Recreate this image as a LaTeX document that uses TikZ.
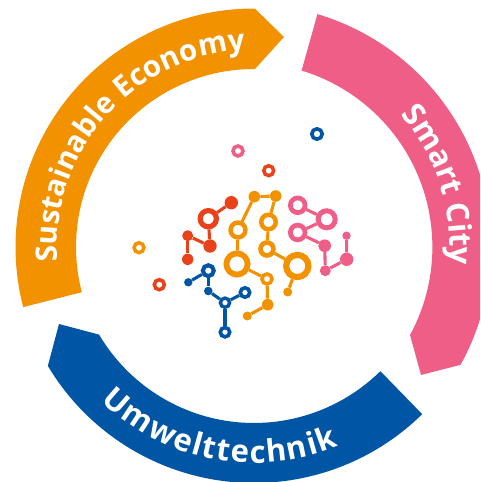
\documentclass[tikz,border=0pt]{standalone}
\usepackage{fontspec}
\usetikzlibrary{decorations.text}
\newfontfamily\bandfont{Open Sans}
\definecolor{cOrange}{HTML}{F39200}
\definecolor{cPink}{HTML}{EE5E86}
\definecolor{cBlue}{HTML}{0056A4}
\definecolor{cRed}{HTML}{E9421A}
\tikzset{
  ringr/.style 2 args={circle,draw,inner sep=0pt,minimum size={(#1+#2-0.3)*1pt},line width={(#1-#2+0.3)*1pt}},
  dotr/.style={circle,fill,inner sep=0pt,minimum size={2*#1*1pt}},
  link/.style={line width=3.1pt},
}
\begin{document}
\begin{tikzpicture}[x=1pt,y=1pt]
\useasboundingbox (0,0) rectangle (480,482);
\begin{scope}
\clip (0,0) rectangle (480,482);
% Orange band
\begin{scope}[shift={(254,235)}]
\fill[cOrange] (194.6:238.5) arc[start angle=194.6,end angle=89.8,radius=238.5] -- (30,210) -- (89.7:178) arc[start angle=89.7,end angle=194.7,radius=178] -- cycle;
\path[decorate,decoration={text along path,text align={fit to path},text={|\bandfont\bfseries\fontsize{29.5}{29.5}\selectfont\color{white}|Sustainable Economy}}] (184.3:197) arc[start angle=184.3,end angle=92.5,radius=197];
\end{scope}
% Pink band
\begin{scope}[shift={(248,235)}]
\fill[cPink] (73.4:243) arc[start angle=73.4,end angle=-29,radius=243] -- (173,-128) -- (-28.5:184.4) arc[start angle=-28.5,end angle=73.1,radius=184.4] -- cycle;
\path[decorate,decoration={text along path,text align={fit to path},text={|\bandfont\bfseries\fontsize{31}{31}\selectfont\color{white}|Smart City}}] (41:202) arc[start angle=41,end angle=-4,radius=202];
\end{scope}
% Blue band
\begin{scope}[shift={(254,239)}]
\fill[cBlue] (210.8:240) arc[start angle=210.8,end angle=314.5,radius=240] -- (314.6:180) arc[start angle=314.6,end angle=210.6,radius=180] -- (-195,-81) -- cycle;
\path[decorate,decoration={text along path,text align={fit to path},text={|\bandfont\bfseries\fontsize{31}{31}\selectfont\color{white}|Umwelttechnik}}] (226:220) arc[start angle=226,end angle=292.6,radius=220];
\end{scope}
\end{scope}
% Network
\begin{scope}[shift={(0,482)},y=-1pt]
% free rings
\node[ringr={6.8}{3.5},draw=cPink] (fp) at (238,151) {};
\node[ringr={6.7}{3.5},draw=cRed] (fr) at (268.7,170.7) {};
\node[ringr={7}{3.7},draw=cBlue] (fb) at (317,134) {};
\node[ringr={6.7}{3.5},draw=cOrange] (fo) at (139,247.7) {};
\node[ringr={6.8}{3.5},draw=cRed] (fr2) at (159.3,284.7) {};
% red
\begin{scope}[cRed]
\node[ringr={10.7}{5.8},draw=cRed] (r1) at (208.3,218.7) {};
\node[dotr=6.7] (r2) at (231.3,202.7) {};
\node[dotr=6.7] (r3) at (210,246) {};
\node[dotr=5.5] (r4) at (187.7,235.7) {};
\node[dotr=5.7] (r5) at (187.7,259.3) {};
\draw[link] (r1) -- (r2);
\draw[link] (r1) -- (r3);
\draw[link] (r3) -- (r4);
\draw[link] (r4) -- (r5);
\end{scope}
% blue
\begin{scope}[cBlue]
\node[ringr={7.5}{3.7},draw=cBlue] (b1) at (208.3,270.7) {};
\node[dotr=4.2] (b2) at (188.3,282.3) {};
\node[dotr=4.3] (b3) at (208.3,291) {};
\node[ringr={6.3}{3.2},draw=cBlue] (b4) at (225,302.7) {};
\node[ringr={6.5}{3.2},draw=cBlue] (b5) at (225,332.2) {};
\node[ringr={6.5}{3.2},draw=cBlue] (b6) at (245,292.5) {};
\draw[link] (b1) -- (b2);
\draw[link] (b1) -- (b3);
\draw[link] (b3) -- (b4);
\draw[link] (b4) -- (b5);
\draw[link] (b4) -- (b6);
\end{scope}
% orange
\begin{scope}[cOrange]
\node[dotr=5.8] (o1) at (254.3,196.7) {};
\node[dotr=5.8] (o2) at (275.7,196) {};
\node[ringr={9.5}{5.3},draw=cOrange] (o3) at (268.5,222) {};
\node[ringr={9.7}{5.5},draw=cOrange] (o4) at (238,230) {};
\node[ringr={8.8}{4.5},draw=cOrange] (o5) at (267,249) {};
\node[ringr={13.5}{8},draw=cOrange] (o6) at (237,264) {};
\node[ringr={14.2}{8.3},draw=cOrange] (o7) at (297.3,266) {};
\node[ringr={6.8}{3.5},draw=cOrange] (o8) at (267,279) {};
\node[dotr=5.8] (o9) at (267.7,304.7) {};
\node[dotr=4.5] (o10) at (247.3,316) {};
\node[dotr=4.5] (o11) at (287.7,292) {};
\draw[link] (o1) -- (o2);
\draw[link] (o1) -- (o4);
\draw[link] (o2) -- (o3);
\draw[link] (o3) -- (o5);
\draw[link] (o4) -- (o6);
\draw[link] (o5) -- (o7);
\draw[link] (o6) -- (o8);
\draw[link] (o8) -- (o9);
\draw[link] (o9) -- (o10);
\draw[link] (o7) -- (o11);
\end{scope}
% pink
\begin{scope}[cPink]
\node[ringr={9.7}{5.3},draw=cPink] (p1) at (297.7,205.3) {};
\node[ringr={11}{6.3},draw=cPink] (p2) at (326.7,219.3) {};
\node[ringr={9.7}{5.3},draw=cPink] (p3) at (297.7,232.5) {};
\node[dotr=6.3] (p4) at (324.7,245.7) {};
\node[dotr=5.5] (p5) at (325.3,270.7) {};
\node[dotr=6.7] (p6) at (346.7,259.3) {};
\node[dotr=4.2] (p7) at (346.5,235.7) {};
\draw[link] (p1) -- (p2);
\draw[link] (p3) -- (p2);
\draw[link] (p3) -- (p4);
\draw[link] (p4) -- (p5);
\draw[link] (p5) -- (p6);
\draw[link] (p6) -- (p7);
\end{scope}
\end{scope}
\end{tikzpicture}
\end{document}
